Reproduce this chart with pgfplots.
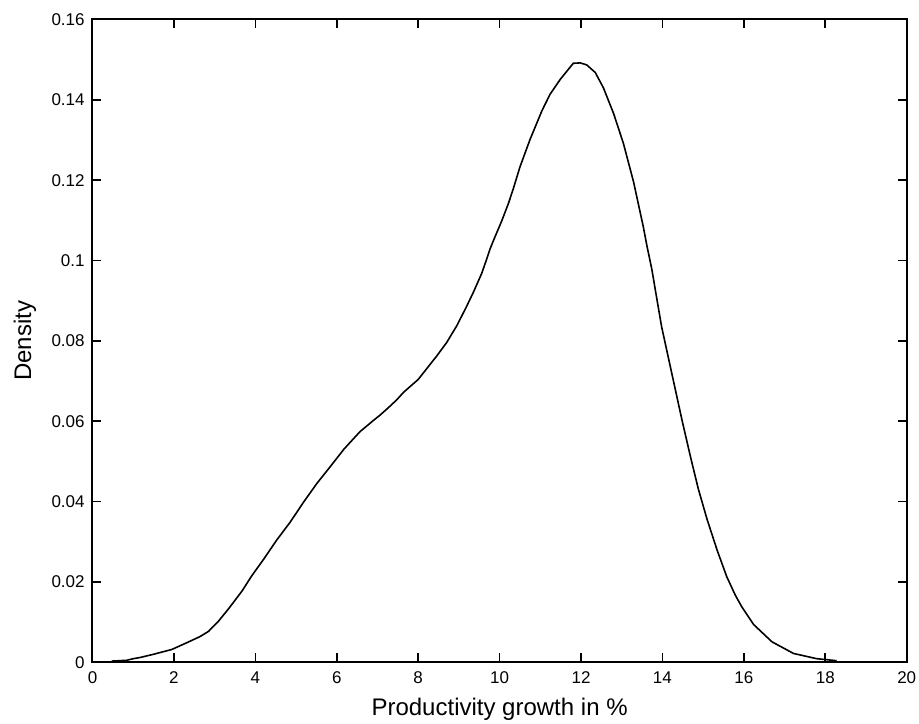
\documentclass[border=0pt]{standalone}
\usepackage{fontspec}
\setmainfont{Liberation Sans}
\usepackage{pgfplots}
\pgfplotsset{compat=1.18}
\begin{document}
\begin{tikzpicture}
\begin{axis}[
  scale only axis,
  width=407.1pt, height=321.4pt,
  xmin=0, xmax=20, ymin=0, ymax=0.16,
  xtick={0,2,...,20},
  ytick={0,0.02,0.04,0.06,0.08,0.1,0.12,0.14,0.16},
  yticklabels={0,0.02,0.04,0.06,0.08,0.1,0.12,0.14,0.16},
  scaled y ticks=false,
  /pgf/number format/assume math mode=true,
  tick align=inside,
  major tick length=4.5pt,
  axis line style={line width=1pt},
  every tick/.style={black, line width=0.8pt},
  ticklabel style={font=\fontsize{8.5}{10}\selectfont},
  xticklabel style={anchor=base, yshift=-10.35pt},
  yticklabel style={anchor=east, inner sep=0pt, xshift=-3.75pt},
  label style={font=\fontsize{12}{14}\selectfont},
  xlabel={Productivity growth in \%},
  ylabel={Density},
  xlabel style={at={(axis description cs:0.5,-0.082)}, anchor=base, inner sep=0pt},
  ylabel style={at={(axis description cs:-0.0755,0.5)}, anchor=base, inner sep=0pt},
]
\addplot[black, line width=0.8pt] coordinates {
(0.47,0.0003) (0.84,0.0005) (1.0,0.0009) (1.17,0.0012) (1.5,0.0020)
(1.95,0.0032) (2.3,0.0048) (2.64,0.0064) (2.85,0.0077) (3.1,0.0103)
(3.34,0.0133) (3.67,0.0177) (3.91,0.0215) (4.2,0.0256) (4.53,0.0305)
(4.85,0.0348) (5.18,0.0398) (5.51,0.0445) (5.84,0.0487) (6.18,0.0531)
(6.57,0.0574) (6.9,0.0602) (7.06,0.0615) (7.27,0.0634) (7.47,0.0653)
(7.64,0.0672) (8.0,0.0704) (8.46,0.0763) (8.70,0.0796) (8.95,0.0838)
(9.19,0.0886) (9.36,0.0922) (9.56,0.0968) (9.66,0.0997) (9.77,0.1030)
(9.87,0.1055) (10.05,0.1098) (10.22,0.1143) (10.34,0.1180) (10.5,0.1233)
(10.67,0.1280) (10.75,0.1302) (11.04,0.1373) (11.24,0.1414) (11.49,0.1451)
(11.81,0.1491) (11.98,0.1492) (12.14,0.1487) (12.35,0.1468) (12.55,0.1430)
(12.8,0.1366) (13.04,0.1292) (13.29,0.1196) (13.53,0.1084) (13.62,0.1036)
(13.74,0.0978) (13.84,0.0918) (13.98,0.0835) (14.23,0.0719) (14.48,0.0603)
(14.69,0.0511) (14.88,0.0432) (15.09,0.0358) (15.34,0.0280) (15.58,0.0213)
(15.79,0.0167) (15.95,0.0138) (16.24,0.0094) (16.69,0.0051) (17.22,0.0022)
(17.79,0.0009) (18.28,0.0004)
};
\end{axis}
\pgfresetboundingbox
\path[use as bounding box] (-46.25pt,-30.35pt) rectangle (413.25pt,331.15pt);
\end{tikzpicture}
\end{document}
